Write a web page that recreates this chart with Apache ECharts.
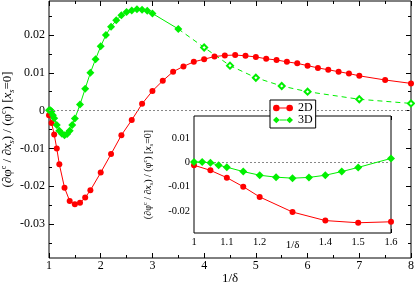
<!DOCTYPE html>
<html>
<head>
<meta charset="utf-8">
<script src="https://cdn.jsdelivr.net/npm/echarts@6/dist/echarts.min.js"></script>
<style>html,body{margin:0;padding:0;background:#fff}#c{width:415px;height:284px}</style>
</head>
<body>
<div id="c"></div>
<script>
// ---- data ----
var red2dX = [1, 1.05, 1.1, 1.15, 1.2, 1.3, 1.4, 1.5, 1.6, 1.7, 1.8, 2.0, 2.2, 2.4, 2.6, 2.8, 3.0, 3.2, 3.4, 3.6, 3.8, 4.0, 4.2, 4.4, 4.6, 4.8, 5.0, 5.2, 5.4, 5.6, 5.8, 6.0, 6.2, 6.4, 6.6, 6.8, 7.0, 7.5, 8.0];
var red2dY = [-0.0012, -0.0033, -0.0063, -0.0100, -0.0142, -0.0204, -0.0239, -0.0248, -0.0244, -0.0230, -0.0211, -0.0164, -0.0115, -0.0065, -0.0025, 0.0018, 0.0052, 0.0079, 0.0103, 0.0117, 0.0129, 0.0136, 0.0143, 0.0146, 0.0147, 0.0145, 0.0142, 0.0137, 0.0134, 0.0129, 0.0125, 0.0119, 0.0113, 0.0108, 0.0103, 0.0098, 0.0092, 0.0081, 0.0072];
var green3dX = [1, 1.025, 1.05, 1.075, 1.1, 1.15, 1.2, 1.25, 1.3, 1.35, 1.4, 1.45, 1.5, 1.6, 1.7, 1.8, 1.9, 2.0, 2.1, 2.2, 2.3, 2.4, 2.5, 2.6, 2.7, 2.8, 2.9, 3.0, 3.5];
var green3dY = [0.0001, 0.0001, -0.0002, -0.0012, -0.0020, -0.0038, -0.0053, -0.0061, -0.0065, -0.0062, -0.0053, -0.0038, -0.0021, 0.0016, 0.0058, 0.0100, 0.0136, 0.0170, 0.0200, 0.0222, 0.0239, 0.0252, 0.0261, 0.0265, 0.0268, 0.0267, 0.0264, 0.0257, 0.0216];
var green3dDashX = [3.5, 4.0, 4.5, 5.0, 5.5, 6.0, 7.0, 8.0];
var green3dDashY = [0.0216, 0.0167, 0.0119, 0.0087, 0.0065, 0.0050, 0.0030, 0.0019];
var mainYLabels = [-0.03, -0.02, -0.01, 0, 0.01, 0.02];
var mainYMinor = [-0.035, -0.025, -0.015, -0.005, 0.005, 0.015, 0.025];
var insetYLabels = [-0.02, -0.01, 0, 0.01];
var insetYMinor = [-0.025, -0.015, -0.005, 0.005, 0.015];
var insetMaxX = 1.6;

function pairs(xs, ys, maxX) {
  var out = [];
  for (var i = 0; i < xs.length; i++) if (maxX === undefined || xs[i] <= maxX + 1e-9) out.push([xs[i], ys[i]]);
  return out;
}

var FONT = 'Liberation Serif';
var RED = '#ff0000', GREEN = '#00f000';

function yAx(grid, pos, vals, len, labels, extra) {
  var a = {
    type: 'value', gridIndex: grid, position: pos,
    min: grid === 0 ? -0.039 : -0.029, max: grid === 0 ? 0.029 : 0.019,
    splitLine: { show: false },
    axisLine: { show: false, onZero: false },
    axisTick: { show: true, inside: true, length: len, customValues: vals, lineStyle: { color: '#000', width: 1 } },
    axisLabel: labels ? { show: true, customValues: vals, color: '#000', fontFamily: FONT, fontSize: grid === 0 ? 12 : 10.5, margin: 4 } : { show: false }
  };
  if (extra) for (var k in extra) a[k] = extra[k];
  return a;
}
function xAx(grid, pos, labels, extra) {
  var a = {
    type: 'value', gridIndex: grid, position: pos,
    min: 1, max: grid === 0 ? 8 : 1.6, interval: grid === 0 ? 1 : 0.1,
    splitLine: { show: false }, minorSplitLine: { show: false },
    axisLine: { show: false, onZero: false },
    axisTick: { show: true, inside: true, length: grid === 0 ? 5 : 4, lineStyle: { color: '#000' } },
    minorTick: { show: true, splitNumber: 2, length: grid === 0 ? 3 : 2.5, lineStyle: { color: '#000' } },
    axisLabel: labels ? {
      show: true, color: '#000', fontFamily: FONT, fontSize: grid === 0 ? 12 : 10.5, margin: grid === 0 ? 2 : 4,
      formatter: function (v) { var r = Math.round(v * 10) / 10; if (grid === 1 && Math.abs(r - 1.3) < 1e-6) return ''; return String(r); }
    } : { show: false }
  };
  if (extra) for (var k in extra) a[k] = extra[k];
  return a;
}

var yName = '(∂φ{sup|c} / ∂{it|x}{sub|s}) / (φ{sup|c}) [{it|x}{sub|s}=0]';
function richFor(fs) {
  return {
    sup: { fontSize: fs * 0.62, fontFamily: FONT, verticalAlign: 'top', color: '#000', lineHeight: fs * 0.7 },
    sub: { fontSize: fs * 0.62, fontFamily: FONT, fontStyle: 'italic', verticalAlign: 'bottom', color: '#000', lineHeight: fs * 0.7 },
    it: { fontSize: fs, fontFamily: FONT, fontStyle: 'italic', color: '#000' }
  };
}

var zeroLine = {
  silent: true, symbol: ['none', 'none'], animation: false,
  label: { show: false },
  lineStyle: { color: '#888', type: [2, 2], width: 1 },
  data: [{ yAxis: 0 }]
};

var legendCircle = 'path://M0,5A5,5,0,1,1,10,5A5,5,0,1,1,0,5ZM20,5A5,5,0,1,1,30,5A5,5,0,1,1,20,5ZM10,4.3L20,4.3L20,5.7L10,5.7Z';
var legendDiamond = 'path://M0,5L5,0L10,5L5,10ZM20,5L25,0L30,5L25,10ZM10,4.3L20,4.3L20,5.7L10,5.7Z';

var option = {
  animation: false,
  backgroundColor: '#fff',
  grid: [
    { left: 49, right: 4, top: 1, bottom: 26, show: true, borderColor: '#000', borderWidth: 1, backgroundColor: '#fff', outerBoundsMode: 'none', containLabel: false },
    { left: 194, right: 24, top: 116, bottom: 51, show: true, borderColor: '#000', borderWidth: 1, backgroundColor: '#fff', outerBoundsMode: 'none', containLabel: false, z: 3 }
  ],
  legend: {
    left: 270, top: 100, orient: 'vertical', z: 10,
    backgroundColor: '#fff', borderColor: '#000', borderWidth: 1, borderRadius: 0,
    padding: [2, 3, 2, 3], itemGap: 0, itemWidth: 20, itemHeight: 7,
    textStyle: { fontFamily: FONT, fontSize: 12, color: '#000', lineHeight: 11 },
    data: [{ name: '2D', icon: legendCircle, itemStyle: { color: RED } }, { name: '3D', icon: legendDiamond, itemStyle: { color: GREEN } }],
    selectedMode: false
  },
  xAxis: [
    xAx(0, 'bottom', true, { name: '1/δ', nameLocation: 'middle', nameGap: 14, nameMoveOverlap: false, nameTextStyle: { fontFamily: FONT, fontSize: 13, color: '#000' } }),
    xAx(0, 'top', false),
    xAx(1, 'bottom', true, { name: '1/δ', nameLocation: 'middle', nameGap: 7, nameMoveOverlap: false, nameTextStyle: { fontFamily: FONT, fontSize: 11, color: '#000' } }),
    xAx(1, 'top', false)
  ],
  yAxis: [
    yAx(0, 'left', mainYLabels, 5, true, { name: yName, nameLocation: 'middle', nameGap: 33, nameMoveOverlap: false, nameTextStyle: { fontFamily: FONT, fontSize: 13, color: '#000', lineHeight: 16, rich: richFor(13) } }),
    yAx(0, 'left', mainYMinor, 3, false),
    yAx(0, 'right', mainYLabels, 5, false),
    yAx(0, 'right', mainYMinor, 3, false),
    yAx(1, 'left', insetYLabels, 4, true, { name: yName, nameLocation: 'middle', nameGap: 40, nameMoveOverlap: false, nameTextStyle: { fontFamily: FONT, fontSize: 10, color: '#000', lineHeight: 12, rich: richFor(10) } }),
    yAx(1, 'left', insetYMinor, 2.5, false),
    yAx(1, 'right', insetYLabels, 4, false),
    yAx(1, 'right', insetYMinor, 2.5, false)
  ],
  series: [
    {
      name: '3Dx', type: 'line', xAxisIndex: 0, yAxisIndex: 0,
      data: pairs(green3dDashX, green3dDashY).map(function (p, i) { return i === 0 ? { value: p, symbol: 'none' } : p; }),
      symbol: 'emptyDiamond', symbolSize: 6, color: GREEN,
      itemStyle: { color: GREEN, borderWidth: 1 },
      lineStyle: { color: GREEN, width: 1, type: [5, 4] }
    },
    {
      name: '2D', type: 'line', xAxisIndex: 0, yAxisIndex: 0,
      data: pairs(red2dX, red2dY), symbol: 'circle', symbolSize: 6, color: RED,
      itemStyle: { color: RED }, lineStyle: { color: RED, width: 1 },
      markLine: zeroLine
    },
    {
      name: '3D', type: 'line', xAxisIndex: 0, yAxisIndex: 0,
      data: pairs(green3dX, green3dY), symbol: 'diamond', symbolSize: 8, color: GREEN,
      itemStyle: { color: GREEN }, lineStyle: { color: GREEN, width: 1 }
    },
    {
      name: '2D', type: 'line', xAxisIndex: 2, yAxisIndex: 4, z: 5,
      data: pairs(red2dX, red2dY, insetMaxX), symbol: 'circle', symbolSize: 6, color: RED,
      itemStyle: { color: RED }, lineStyle: { color: RED, width: 1 },
      markLine: zeroLine
    },
    {
      name: '3D', type: 'line', xAxisIndex: 2, yAxisIndex: 4, z: 5,
      data: pairs(green3dX, green3dY, insetMaxX), symbol: 'diamond', symbolSize: 8, color: GREEN,
      itemStyle: { color: GREEN }, lineStyle: { color: GREEN, width: 1 }
    }
  ]
};
var chart = echarts.init(document.getElementById('c'), null, { renderer: 'canvas' });
chart.setOption(option);
</script>
</body>
</html>
